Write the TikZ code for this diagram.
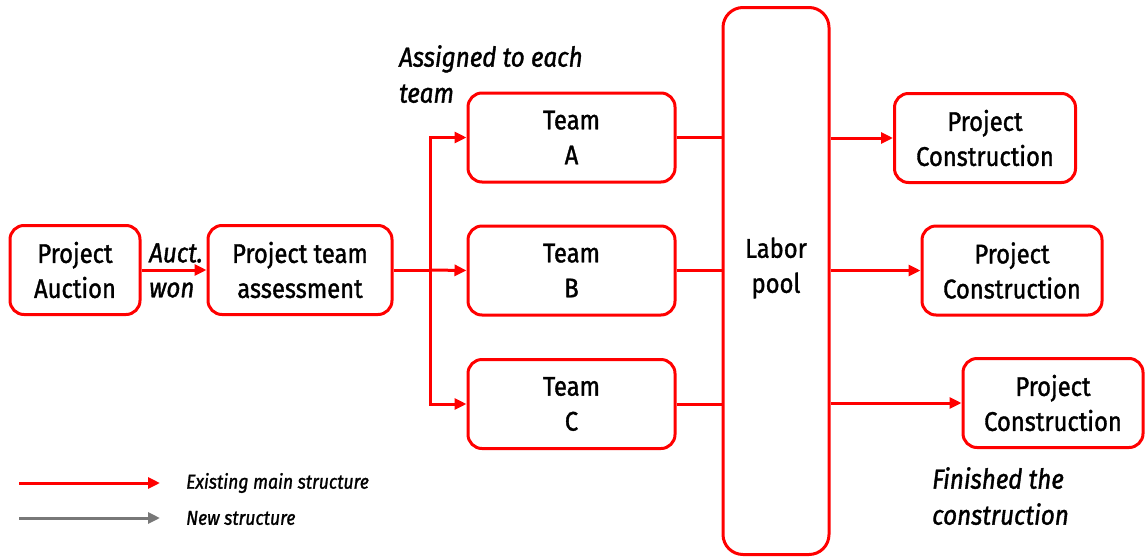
\documentclass[tikz,border=0pt]{standalone}
\usepackage{fontspec}
\setmainfont[FakeStretch=0.88,FakeBold=1.3]{Fira Sans}
\usetikzlibrary{arrows.meta,calc}
\definecolor{mainred}{RGB}{255,0,0}
\definecolor{newgray}{RGB}{120,120,120}
\tikzset{
  box/.style={draw=mainred, line width=3pt, rounded corners=14pt, fill=white,
    align=center, font=\fontsize{27}{35}\selectfont, inner sep=0pt},
  flow/.style={draw=mainred, line width=3pt},
  flowarrow/.style={flow, -{Triangle[length=12pt,width=11pt]}},
  newarrow/.style={draw=newgray, line width=3pt, -{Triangle[length=12pt,width=11pt]}},
  note/.style={font=\fontsize{27.5}{36}\selectfont\itshape, align=left, inner sep=0pt},
  legendtext/.style={font=\fontsize{20}{22}\selectfont\itshape, anchor=west, inner sep=0pt}
}
\begin{document}
\begin{tikzpicture}[x=1pt,y=-1pt]
  \useasboundingbox (0,0) rectangle (1147,557);

  % process boxes
  \node[box, minimum width=130pt, minimum height=89pt] (auction) at (75,270) {Project\\Auction};
  \node[box, minimum width=184pt, minimum height=89pt] (assess) at (300,270) {Project team\\assessment};
  \node[box, minimum width=207pt, minimum height=89pt] (teamA) at (571.5,137.5) {Team\\A};
  \node[box, minimum width=207pt, minimum height=89pt] (teamB) at (571.5,270.5) {Team\\B};
  \node[box, minimum width=207pt, minimum height=89pt] (teamC) at (571.5,404) {Team\\C};
  \node[box, rounded corners=20pt, minimum width=106pt, minimum height=547pt] (labor) at (776,281) {};
  \node[align=center, font=\fontsize{27}{35}\selectfont, inner sep=0pt] (labortext) at (776,268) {Labor\\pool};
  \node[box, minimum width=181pt, minimum height=89pt] (pc1) at (985,138) {Project\\Construction};
  \node[box, minimum width=180pt, minimum height=89pt] (pc2) at (1012,270.5) {Project\\Construction};
  \node[box, minimum width=180pt, minimum height=89pt] (pc3) at (1053,403) {Project\\Construction};

  % annotations
  \node[note, anchor=west] (auct) at (149,253) {Auct.};
  \node[note, anchor=west] (won) at (149,290) {won};
  \node[note, anchor=north west] (assigned) at (399,45) {Assigned to each\\team};
  \node[note, anchor=north west] (finished) at (932,467) {Finished the\\construction};

  % auction to assessment
  \draw[flowarrow] (auction.east) -- (assess.west);

  % distribution bus to the teams
  \coordinate (bus) at (430,270);
  \draw[flow] (assess.east) -- (bus);
  \draw[flowarrow] (bus) -- (teamB.west);
  \draw[flowarrow] (bus) |- (teamA.west);
  \draw[flowarrow] (bus) |- (teamC.west);

  % teams into the labor pool
  \draw[flow] (teamA.east) -- (teamA.east -| labor.west);
  \draw[flow] (teamB.east) -- (teamB.east -| labor.west);
  \draw[flow] (teamC.east) -- (teamC.east -| labor.west);

  % labor pool out to construction
  \draw[flowarrow] (pc1.west -| labor.east) -- (pc1.west);
  \draw[flowarrow] (pc2.west -| labor.east) -- (pc2.west);
  \draw[flowarrow] (pc3.west -| labor.east) -- (pc3.west);

  % legend
  \coordinate (legA1) at (19,483);
  \coordinate (legA2) at (160,483);
  \coordinate (legB1) at (19,518);
  \coordinate (legB2) at (160,518);
  \draw[flowarrow] (legA1) -- (legA2);
  \draw[newarrow] (legB1) -- (legB2);
  \node[legendtext] (legtextA) at (186,483) {Existing main structure};
  \node[legendtext] (legtextB) at (186,518) {New structure};
\end{tikzpicture}
\end{document}
